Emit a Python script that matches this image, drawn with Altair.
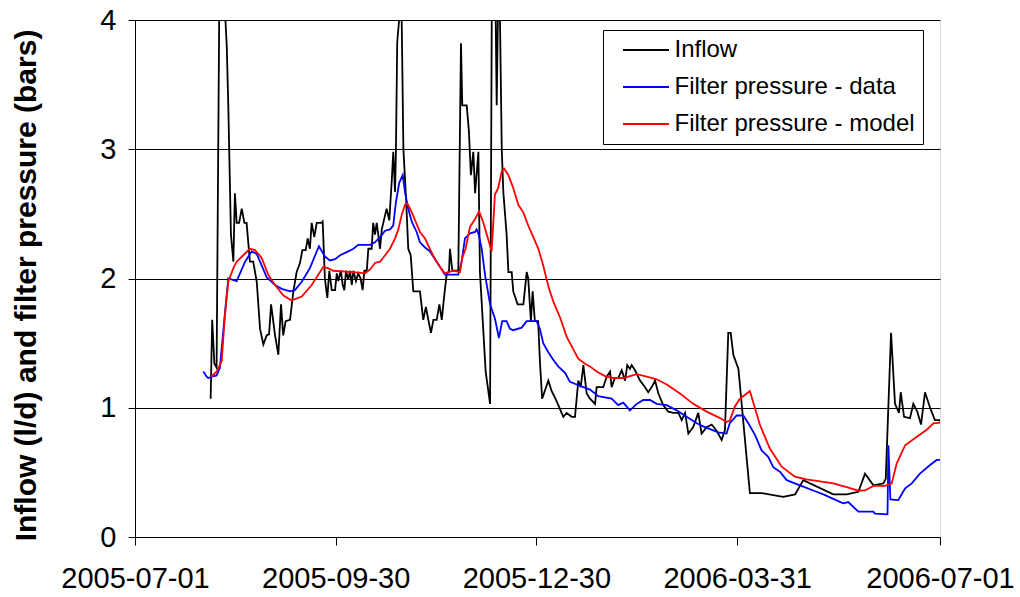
import altair as alt
import pandas as pd

start = pd.Timestamp("2005-07-01")
names = ["Inflow", "Filter pressure - data", "Filter pressure - model"]
colors = ["#000000", "#0000ff", "#ff0000"]

# days since 2005-07-01
inflow_days = [34.3, 35.0, 36.0, 37.0, 38.3, 39.4, 40.4, 41.6, 42.3, 43.5, 44.6, 45.3, 46.1, 47.2, 48.4, 49.6, 50.6,
               52.1, 53.6, 55.2, 56.7, 58.2, 59.7, 60.8, 61.7, 63.5, 65.0, 66.2, 67.2, 68.3, 70.3, 71.8, 73.3, 74.8,
               75.9, 77.4, 78.3, 79.3, 80.1, 81.3, 82.4, 84.6, 85.1, 86.1, 87.2, 88.1, 89.2, 90.7, 91.5, 92.2, 93.3,
               94.2, 94.9, 95.7, 96.7, 97.5, 98.3, 99.0, 100.2, 101.2, 102.3, 103.2, 104.0, 105.1, 105.8, 107.3,
               108.0, 108.8, 109.6, 110.3, 111.1, 111.9, 113.4, 114.1, 115.3, 116.4, 117.1, 117.9, 118.3, 118.9,
               120.0, 120.9, 121.7, 122.9, 123.9, 125.0, 126.2, 129.2, 130.7, 131.9, 133.0, 134.2, 135.3, 136.8,
               138.0, 139.1, 140.1, 141.3, 142.4, 142.8, 143.9, 146.6, 147.8, 148.4, 150.4, 151.4, 152.3, 153.4,
               154.2, 155.7, 156.4, 159.0, 161.0, 162.0, 163.0, 164.0, 165.0, 166.3, 167.0, 168.5, 169.3, 170.8,
               171.5, 173.5, 176.1, 177.6, 178.3, 179.5, 180.3, 181.3, 182.8, 183.6, 184.6, 187.4, 188.9, 191.2,
               194.2, 195.7, 198.0, 199.5, 201.0, 202.1, 203.3, 204.8, 206.3, 208.6, 209.3, 212.3, 213.9, 215.4,
               216.1, 217.6, 219.1, 220.7, 222.2, 223.2, 224.4, 225.2, 226.7, 229.0, 231.2, 232.7, 234.3, 235.8,
               237.3, 239.5, 241.8, 244.1, 246.4, 247.9, 249.4, 250.9, 253.1, 255.4, 256.9, 259.2, 261.5, 263.8,
               266.0, 267.5, 269.0, 270.1, 271.3, 273.6, 278.8, 284.2, 293.9, 299.3, 303.0, 316.6, 322.7, 328.0,
               331.0, 334.8, 339.3, 340.4, 342.8, 344.6, 346.4, 347.2, 348.7, 351.4, 352.9, 354.7, 356.4, 358.2,
               360.5, 362.7, 365.0, 366.2]
inflow_vals = [1.07, 1.68, 1.34, 1.31, 4.3, 4.6, 4.2, 3.8, 3.34, 2.34, 2.13, 2.66, 2.43, 2.43, 2.54, 2.43, 2.43,
               2.13, 2.13, 1.975, 1.61, 1.49, 1.56, 1.57, 1.80, 1.56, 1.41, 1.80, 1.56, 1.67, 1.68, 1.90, 2.05, 2.12,
               2.22, 2.22, 2.31, 2.23, 2.43, 2.32, 2.43, 2.43, 2.44, 2.0, 1.85, 2.06, 1.91, 1.91, 2.04, 1.98, 2.06,
               1.95, 1.91, 2.06, 1.99, 2.06, 1.95, 2.06, 1.98, 2.04, 2.0, 1.91, 2.06, 2.06, 2.23, 2.23,
               2.43, 2.34, 2.43, 2.34, 2.23, 2.38, 2.49, 2.54, 2.45, 2.75, 2.98, 2.67, 2.98, 3.83,
               4.05, 4.03, 3.0, 2.62, 2.23, 2.18, 1.90, 1.90, 1.68, 1.78, 1.68, 1.58, 1.68, 1.68,
               1.80, 1.68, 1.85, 2.03, 2.06, 2.23, 2.06, 2.06, 3.82, 3.34, 3.34, 3.14, 2.80, 2.98,
               2.66, 2.98, 2.05, 1.28, 1.03, 5.0, 4.8, 3.34, 4.6, 3.0, 2.67, 2.34, 2.05, 2.05,
               1.90, 1.80, 1.80, 2.05, 2.0, 1.67, 1.90, 1.67, 1.67, 1.36, 1.07, 1.21, 1.13, 1.05,
               0.93, 0.96, 0.93, 0.93, 1.21, 1.16, 1.33, 1.11, 1.07, 1.03, 1.16, 1.16, 1.24, 1.28,
               1.16, 1.23, 1.23, 1.29, 1.21, 1.33, 1.30, 1.33, 1.29, 1.21, 1.16, 1.12, 1.16, 1.21,
               1.11, 1.02, 0.97, 0.96, 0.96, 0.905, 0.96, 0.80, 0.85, 0.96, 0.80, 0.85, 0.87, 0.82,
               0.75, 0.83, 1.58, 1.58, 1.41, 1.30, 0.34, 0.34, 0.31, 0.33, 0.44, 0.33, 0.33, 0.35,
               0.49, 0.40, 0.415, 0.45, 1.58, 1.03, 0.96, 1.12, 0.93, 0.92, 1.03, 0.97, 0.87, 1.12,
               1.0, 0.905, 0.905, 0.83]

data_days = [31.0, 32.5, 33.2, 34.9, 37.0, 38.5, 40.6, 42.3, 46.1, 49.9, 52.9, 55.2, 56.7, 59.7, 63.5, 66.5, 70.3,
             72.5, 75.6, 79.3, 83.4, 86.1, 88.4, 90.7, 93.0, 96.7, 99.0, 101.2, 106.6, 108.8, 111.1, 113.4, 115.6,
             117.1, 118.3, 119.8, 121.4, 122.4, 123.9, 125.5, 127.7, 129.2, 131.5, 133.7, 136.0, 138.3, 140.5,
             146.6, 148.1, 149.6, 151.9, 154.2, 154.9, 155.7, 157.2, 158.7, 161.0, 163.2, 165.0, 166.5, 168.5,
             170.0, 171.5, 175.3, 177.6, 182.1, 183.6, 185.1, 187.4, 189.7, 191.9, 195.0, 197.2, 200.3, 203.3,
             206.3, 210.1, 216.1, 219.1, 221.4, 224.4, 227.5, 230.5, 233.5, 236.5, 241.1, 245.6, 250.1, 254.7,
             258.4, 264.5, 268.2, 269.7, 272.8, 275.8, 278.1, 281.1, 284.1, 287.1, 289.4, 292.4, 295.5, 299.2,
             303.0, 307.5, 312.1, 316.6, 321.1, 323.4, 328.0, 334.8, 335.5, 341.2, 341.6, 342.5, 346.1, 349.2,
             352.2, 355.9, 360.5, 363.5, 366.2]
data_vals = [1.28, 1.24, 1.23, 1.24, 1.25, 1.31, 1.70, 2.0, 1.98, 2.13, 2.21, 2.19, 2.13, 2.01, 1.95, 1.92, 1.90,
             1.91, 1.975, 2.08, 2.25, 2.17, 2.14, 2.15, 2.18, 2.21, 2.23, 2.26, 2.26, 2.28, 2.32, 2.37, 2.38,
             2.41, 2.59, 2.74, 2.80, 2.67, 2.54, 2.44, 2.36, 2.28, 2.24, 2.21, 2.15, 2.09, 2.03,
             2.03, 2.13, 2.31, 2.35, 2.36, 2.38, 2.35, 2.23, 2.03, 1.80, 1.69, 1.54, 1.67, 1.67,
             1.61, 1.60, 1.62, 1.67, 1.67, 1.61, 1.50, 1.43, 1.37, 1.32, 1.27, 1.20, 1.18, 1.16,
             1.14, 1.09, 1.07, 1.02, 1.04, 0.98, 1.03, 1.06, 1.06, 1.03, 1.02, 0.98, 0.93, 0.88,
             0.85, 0.81, 0.80, 0.88, 0.94, 0.94, 0.88, 0.79, 0.67, 0.62, 0.54, 0.505, 0.44, 0.415,
             0.39, 0.36, 0.33, 0.295, 0.26, 0.27, 0.196, 0.196, 0.18, 0.175, 0.71, 0.29, 0.286, 0.377,
             0.415, 0.49, 0.557, 0.596, 0.596]

model_days = [34.5, 37.0, 39.3, 40.8, 42.3, 44.6, 46.1, 49.1, 52.1, 54.4, 57.4, 60.4, 63.5, 67.2, 71.0, 75.6, 80.1,
              85.4, 87.5, 89.9, 99.0, 104.3, 106.6, 108.8, 111.1, 113.4, 115.6, 117.9, 119.4, 120.9, 122.4, 123.5,
              125.0, 127.0, 129.2, 131.5, 133.7, 136.0, 138.3, 140.5, 144.3, 147.4, 148.4, 149.9, 151.9, 154.2,
              156.0, 158.0, 159.5, 161.7, 163.2, 164.7, 166.3, 167.4, 169.3, 171.5, 173.8, 176.1, 178.3, 180.6,
              182.9, 185.1, 187.4, 189.7, 192.7, 195.7, 198.8, 201.0, 204.0, 206.3, 209.3, 213.1, 216.9, 221.4,
              227.5, 232.0, 236.5, 241.1, 247.1, 253.1, 259.2, 265.3, 268.2, 269.7, 272.0, 274.3, 278.8, 283.3,
              287.8, 293.2, 299.2, 304.5, 316.6, 322.7, 328.0, 331.0, 334.8, 340.1, 343.1, 345.4, 349.2, 354.5,
              359.0, 362.0, 365.0]
model_vals = [1.24, 1.28, 1.36, 1.72, 1.975, 2.08, 2.13, 2.18, 2.23, 2.22, 2.16, 2.03, 1.95, 1.87, 1.83, 1.86, 1.95,
              2.09, 2.08, 2.06, 2.05, 2.04, 2.07, 2.12, 2.13, 2.18, 2.23, 2.31, 2.38, 2.49, 2.57, 2.58,
              2.53, 2.45, 2.36, 2.31, 2.23, 2.15, 2.09, 2.04, 2.06, 2.05, 2.16, 2.23, 2.40, 2.46,
              2.52, 2.43, 2.34, 2.21, 2.65, 2.70, 2.83, 2.85, 2.80, 2.70, 2.57, 2.51, 2.41, 2.32,
              2.23, 2.10, 1.94, 1.82, 1.70, 1.55, 1.45, 1.38, 1.34, 1.32, 1.28, 1.245, 1.23, 1.23,
              1.26, 1.24, 1.22, 1.18, 1.11, 1.03, 0.97, 0.92, 0.89, 0.90, 1.01, 1.07, 1.13, 0.87,
              0.686, 0.544, 0.467, 0.446, 0.415, 0.385, 0.358, 0.36, 0.395, 0.395, 0.415, 0.57, 0.71, 0.776,
              0.83, 0.88, 0.885]

tick_dates = ["2005-07-01", "2005-09-30", "2005-12-30", "2006-03-31", "2006-07-01"]
y_ticks = [0, 1, 2, 3, 4]


def frame(days, vals, name):
    return pd.DataFrame({
        "date": start + pd.to_timedelta(days, unit="D"),
        "value": vals,
        "series": name,
    })


df = pd.concat([
    frame(inflow_days, inflow_vals, names[0]),
    frame(data_days, data_vals, names[1]),
    frame(model_days, model_vals, names[2]),
], ignore_index=True)


def dt(s):
    y, m, d = (int(p) for p in s.split("-"))
    return alt.DateTime(year=y, month=m, date=d)


FONT = "Liberation Sans"

x = alt.X(
    "date:T",
    scale=alt.Scale(domain=[dt(tick_dates[0]), dt(tick_dates[-1])], nice=False),
    axis=alt.Axis(
        values=[dt(s) for s in tick_dates], format="%Y-%m-%d", title=None, grid=False,
        labelFontSize=29, labelPadding=19, tickSize=8, tickColor="black", domainColor="black",
        labelColor="black", labelFont=FONT, labelFlush=False, labelOverlap=False,
    ),
)
y = alt.Y(
    "value:Q",
    scale=alt.Scale(domain=[0, 4], nice=False, zero=True),
    axis=alt.Axis(
        values=y_ticks, format="d", title="Inflow (l/d) and filter pressure (bars)",
        titleFontSize=30, titleFontWeight="bold", titleFont=FONT, titleColor="black", titlePadding=58,
        titleY=265,
        labelFontSize=29, labelPadding=12, tickSize=7, tickColor="black", domainColor="black",
        labelColor="black", labelFont=FONT, grid=True, gridColor="black", gridWidth=1, gridOpacity=1,
    ),
)
color = alt.Color(
    "series:N",
    scale=alt.Scale(domain=names, range=colors),
    legend=alt.Legend(
        title=None, orient="none", legendX=468, legendY=10, padding=7.5,
        strokeColor="black", fillColor="white",
        symbolType="M-2,0H2", symbolSize=529, symbolStrokeWidth=2,
        symbolOffset=23, labelOffset=16, rowPadding=12,
        labelFontSize=24, labelFont=FONT, labelColor="black", labelLimit=400,
    ),
)

base = alt.Chart(df).mark_line(strokeWidth=1.8, clip=True).encode(x=x, y=y, color=color)
layers = [base.transform_filter(alt.datum.series == n) for n in names]

chart = alt.layer(*layers).properties(
    width=805, height=517,
    padding={"left": 135, "top": 20, "right": 80, "bottom": 60},
    autosize=alt.AutoSizeParams(type="none"),
).configure_view(stroke="black", strokeWidth=1.5).configure(background="white")

chart.save("out.html", embed_options={"renderer": "svg", "actions": False})
